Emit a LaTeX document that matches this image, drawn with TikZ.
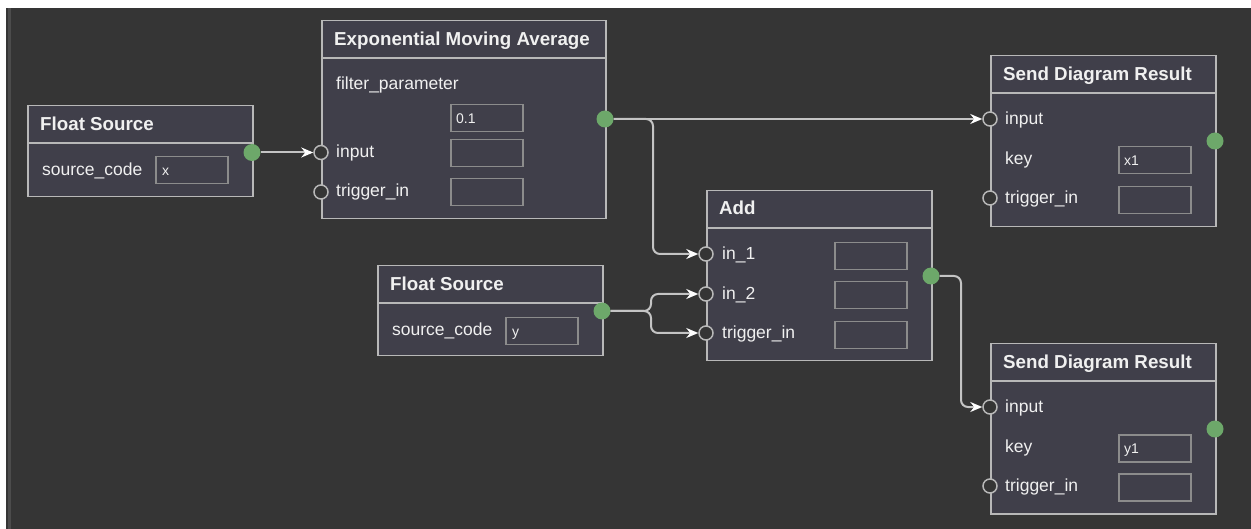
\documentclass[tikz,border=0pt]{standalone}
\usepackage{fontspec}
\setmainfont{Liberation Sans}
\usetikzlibrary{arrows.meta,calc}
\definecolor{bg}{HTML}{353535}
\definecolor{band}{HTML}{4C4C4C}
\definecolor{boxfill}{HTML}{403F4A}
\definecolor{boxline}{HTML}{B8B8B8}
\definecolor{fieldline}{HTML}{8C8C8C}
\definecolor{wirec}{HTML}{C4C4C4}
\definecolor{okgreen}{HTML}{6DA86A}
\definecolor{txt}{HTML}{F0F0F0}
\tikzset{
 box/.style={draw=boxline, fill=boxfill, line width=1.5pt, rectangle, anchor=north west, inner sep=0pt, minimum width=225pt},
 sepline/.style={draw=boxline, line width=1.5pt},
 title/.style={anchor=base west, inner sep=0pt, text=txt, font=\fontsize{18.75}{20}\selectfont\bfseries},
 lbl/.style={anchor=base west, inner sep=0pt, text=txt, font=\fontsize{17.5}{19}\selectfont},
 field/.style={draw=fieldline, line width=1.5pt, anchor=north west, minimum width=72pt, minimum height=27pt, inner sep=0pt},
 ftxt/.style={anchor=base west, inner sep=0pt, text=txt, font=\fontsize{14}{16}\selectfont},
 port/.style={circle, draw=boxline, fill=bg, line width=1.5pt, minimum size=14pt, inner sep=0pt},
 outdot/.style={circle, fill=okgreen, minimum size=17pt, inner sep=0pt},
 wire/.style={draw=wirec, line width=2pt, rounded corners=7pt, -{Stealth[length=12pt,width=10pt,inset=4pt,color=white]}},
}
\begin{document}
\begin{tikzpicture}[x=1pt,y=-1pt]
\useasboundingbox (0,0) rectangle (1251,529);
\fill[white] (0,0) rectangle (1251,529);
\fill[bg] (6,8) rectangle (1251,529);
\fill[band] (7.5,8) rectangle (10.5,529);

% ---------- boxes ----------
\node[box, minimum height=91pt] (fs1) at (27,105) {};
\node[box, minimum width=284pt, minimum height=198pt] (ema) at (321,20) {};
\node[box, minimum height=170pt] (add) at (706,190) {};
\node[box, minimum height=90pt] (fs2) at (377,265) {};
\node[box, minimum height=171pt] (s1) at (990,55) {};
\node[box, minimum height=170pt] (s2) at (990,343) {};

\foreach \b in {fs1,ema,add,fs2,s1,s2}{
  \draw[sepline] ($(\b.north west)+(0,38)$) -- ($(\b.north east)+(0,38)$);
}

% ---------- titles ----------
\node[title] (fs1-t) at (40,131) {Float Source};
\node[title] (ema-t) at (334,46) {Exponential Moving Average};
\node[title] (add-t) at (719,215) {Add};
\node[title] (fs2-t) at (390,291) {Float Source};
\node[title] (s1-t) at (1003,81) {Send Diagram Result};
\node[title] (s2-t) at (1003,369) {Send Diagram Result};

% ---------- labels ----------
\node[lbl] (fs1-l) at (42,176) {source\_code};
\node[lbl] (ema-l1) at (336,90) {filter\_parameter};
\node[lbl] (ema-l2) at (336,157.5) {input};
\node[lbl] (ema-l3) at (336,197) {trigger\_in};
\node[lbl] (add-l1) at (722,259.5) {in\_1};
\node[lbl] (add-l2) at (722,299.5) {in\_2};
\node[lbl] (add-l3) at (722,338.5) {trigger\_in};
\node[lbl] (fs2-l) at (392,335.5) {source\_code};
\node[lbl] (s1-l1) at (1005,124.5) {input};
\node[lbl] (s1-l2) at (1005,165) {key};
\node[lbl] (s1-l3) at (1005,203.5) {trigger\_in};
\node[lbl] (s2-l1) at (1005,412.5) {input};
\node[lbl] (s2-l2) at (1005,452.5) {key};
\node[lbl] (s2-l3) at (1005,491.5) {trigger\_in};

% ---------- fields ----------
\node[field] (fs1-f) at (155,156) {};
\node[ftxt] at ($(fs1-f.west)+(7,5)$) {x};
\node[field] (ema-f1) at (450,104) {};
\node[ftxt] at ($(ema-f1.west)+(6,5)$) {0.1};
\node[field] (ema-f2) at (450,139) {};
\node[field] (ema-f3) at (450,178) {};
\node[field] (add-f1) at (834,242) {};
\node[field] (add-f2) at (834,281) {};
\node[field] (add-f3) at (834,321) {};
\node[field] (fs2-f) at (505,317) {};
\node[ftxt] at ($(fs2-f.west)+(7,5)$) {y};
\node[field] (s1-f1) at (1118,146) {};
\node[ftxt] at ($(s1-f1.west)+(6,5)$) {x1};
\node[field] (s1-f2) at (1118,186) {};
\node[field] (s2-f1) at (1118,434) {};
\node[ftxt] at ($(s2-f1.west)+(6,5)$) {y1};
\node[field] (s2-f2) at (1118,473) {};

% ---------- ports ----------
\node[port] (ema-in) at (321,152.5) {};
\node[port] (ema-trig) at (321,192) {};
\node[port] (add-in1) at (706,254) {};
\node[port] (add-in2) at (706,294) {};
\node[port] (add-trig) at (706,333) {};
\node[port] (s1-in) at (990,119) {};
\node[port] (s1-trig) at (990,198) {};
\node[port] (s2-in) at (990,407) {};
\node[port] (s2-trig) at (990,486) {};

% ---------- outputs ----------
\node[outdot] (fs1-out) at (252,152.5) {};
\node[outdot] (ema-out) at (605,119) {};
\node[outdot] (add-out) at (931,276) {};
\node[outdot] (fs2-out) at (602,311) {};
\node[outdot] (s1-out) at (1215,141) {};
\node[outdot] (s2-out) at (1215,429) {};

% ---------- wires ----------
\coordinate (j1) at (653,0);
\coordinate (j2) at (651,0);
\coordinate (j3) at (961,0);
\draw[wire] (fs1-out.east) -- (ema-in.west);
\draw[wire] (ema-out.east) -- (s1-in.west);
\draw[wire] (ema-out.east) -- (ema-out.east -| j1) |- (add-in1.west);
\draw[wire] (fs2-out.east) -- (fs2-out.east -| j2) |- (add-in2.west);
\draw[wire] (fs2-out.east) -- (fs2-out.east -| j2) |- (add-trig.west);
\draw[wire] (add-out.east) -- (add-out.east -| j3) |- (s2-in.west);
\end{tikzpicture}
\end{document}
